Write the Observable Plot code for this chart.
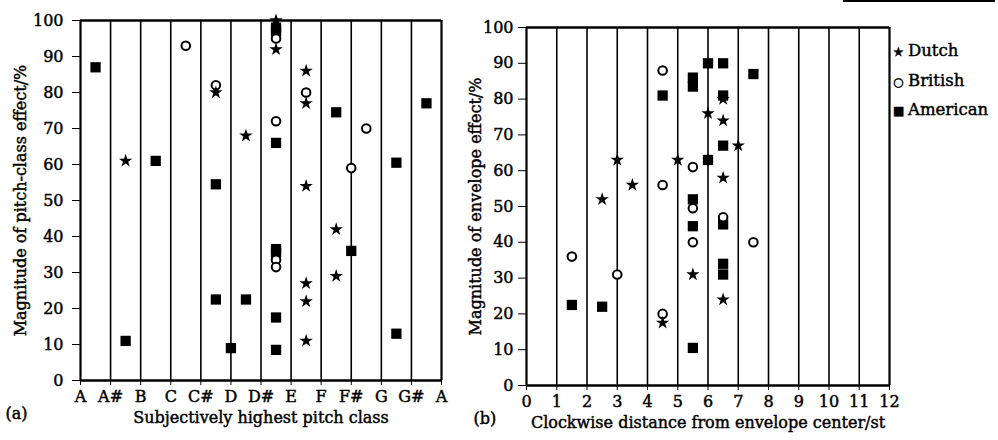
<!DOCTYPE html>
<html><head><meta charset="utf-8">
<script src="https://cdn.jsdelivr.net/npm/d3@7"></script>
<script src="https://cdn.jsdelivr.net/npm/@observablehq/plot@0.6"></script>
<style>
body{margin:0;background:#fff;}
#wrap{position:relative;width:998px;height:440px;font-family:"DejaVu Serif",serif;color:#000;overflow:hidden;}
#pa{position:absolute;left:0;top:0;}
#pb{position:absolute;left:470px;top:0;}
#wrap svg text{stroke:#000;stroke-width:0.45px;}
#legend{position:absolute;left:893px;top:37px;font-size:16.5px;line-height:28.5px;white-space:nowrap;-webkit-text-stroke:0.45px #000;}
#legend .sym{font-family:"DejaVu Sans",sans-serif;font-size:12px;display:inline-block;width:15px;}
#scanline{position:absolute;left:843px;top:0;width:152px;height:2px;background:#000;}
</style></head>
<body><div id="wrap"><div id="pa"></div><div id="pb"></div><div id="legend"></div><div id="scanline"></div></div>
<script>
// ---- tick labels ----
const pitchLabels = ["A","A#","B","C","C#","D","D#","E","F","F#","G","G#","A"];
const distanceTicks = [0,1,2,3,4,5,6,7,8,9,10,11,12];
const percentTicks = [0,10,20,30,40,50,60,70,80,90,100];
const seriesNames = ["Dutch","British","American"];

// ---- panel (a): [position between pitch classes, magnitude %] ----
const aDutch = [[1.5,61],[4.5,80],[5.5,68],[6.5,100],[6.5,92],[7.5,86],[7.5,77],[7.5,54],[7.5,27],[7.5,22],[7.5,11],[8.5,42],[8.5,29]];
const aBritish = [[3.5,93],[4.5,82],[6.5,95],[6.5,72],[6.5,33.5],[6.5,31.5],[7.5,80],[9,59],[9.5,70]];
const aAmerican = [[0.5,87],[1.5,11],[2.5,61],[4.5,54.5],[4.5,22.5],[5,9],[5.5,22.5],[6.5,98],[6.5,97],[6.5,66],[6.5,36.5],[6.5,35.5],[6.5,17.5],[6.5,8.5],[8.5,74.5],[9,36],[10.5,60.5],[10.5,13],[11.5,77]];

// ---- panel (b): [clockwise distance/st, magnitude %] ----
const bDutch = [[2.5,52],[3,63],[3.5,56],[4.5,17.5],[5,63],[5.5,31],[6,76],[6.5,80],[6.5,74],[6.5,58],[6.5,24],[7,67]];
const bBritish = [[1.5,36],[3,31],[4.5,88],[4.5,56],[4.5,20],[5.5,61],[5.5,49.5],[5.5,40],[6.5,47],[7.5,40]];
const bAmerican = [[1.5,22.5],[2.5,22],[4.5,81],[5.5,86],[5.5,83.5],[5.5,52],[5.5,44.5],[5.5,10.5],[6,90],[6,63],[6.5,90],[6.5,81],[6.5,67],[6.5,45],[6.5,34],[6.5,31],[7.5,87]];

const FONT = "DejaVu Serif";
const FS = 16;

function panel(o) {
  const gx = d3.range(0, 13);
  return Plot.plot({
    width: o.width, height: 440,
    marginLeft: o.ml, marginRight: o.mr, marginTop: o.mt, marginBottom: o.mb,
    style: {fontFamily: FONT, fontSize: FS + "px", color: "#000", background: "transparent", overflow: "visible"},
    x: {domain: [0, 12]},
    y: {domain: [0, 100]},
    marks: [
      Plot.ruleX(gx.filter(d => d > 0 && d < 12), {stroke: "#000", strokeWidth: 1.6}),
      Plot.ruleX([0, 12], {stroke: "#000", strokeWidth: 2.2}),
      Plot.ruleY([0], {stroke: "#000", strokeWidth: 2.6}),
      Plot.ruleY([100], {stroke: "#000", strokeWidth: 2.4}),
      Plot.axisX({ticks: o.xTicks, tickFormat: o.tickFormat, tickSize: 5, tickPadding: 5, label: null, fontSize: FS}),
      Plot.axisY({ticks: percentTicks, tickSize: 8, tickPadding: o.yPad, label: null, fontSize: FS}),
      Plot.dot(o.american, {x: d => d[0], y: d => d[1], symbol: "square", r: 5.8, fill: "#000", stroke: "none"}),
      Plot.dot(o.british, {x: d => d[0], y: d => d[1], symbol: "circle", r: 4.3, fill: "#fff", stroke: "#000", strokeWidth: 2}),
      Plot.dot(o.dutch, {x: d => d[0], y: d => d[1], symbol: "star", r: 4.2, fill: "#000", stroke: "none"}),
      Plot.text([o.xTitle], {text: d => d, frameAnchor: "bottom", textAnchor: "middle", dy: 42, fontSize: FS, fill: "#000"}),
      Plot.text([o.yTitle], {text: d => d, frameAnchor: "left", textAnchor: "middle", dx: o.yTitleDx, rotate: -90, fontSize: FS, fill: "#000"}),
      Plot.text([o.tag], {text: d => d, frameAnchor: "bottom-left", dx: o.tagDx, dy: 38, textAnchor: "start", fontSize: FS, fill: "#000"})
    ]
  });
}

document.getElementById("pa").appendChild(panel({
  width: 470, ml: 80, mr: 29, mt: 20, mb: 60,
  xTicks: d3.range(0, 13), tickFormat: i => pitchLabels[i], yPad: 9,
  dutch: aDutch, british: aBritish, american: aAmerican,
  xTitle: "Subjectively highest pitch class",
  yTitle: "Magnitude of pitch-class effect/%", yTitleDx: -60,
  tag: "(a)", tagDx: -75
}));

document.getElementById("pb").appendChild(panel({
  width: 528, ml: 56, mr: 109, mt: 27, mb: 55,
  xTicks: distanceTicks, tickFormat: d => String(d), yPad: 5,
  dutch: bDutch, british: bBritish, american: bAmerican,
  xTitle: "Clockwise distance from envelope center/st",
  yTitle: "Magnitude of envelope effect/%", yTitleDx: -51,
  tag: "(b)", tagDx: -53
}));

const legendSymbols = {Dutch: "\u2605", British: "\u25CB", American: "\u25A0"};
const lg = d3.select("#legend");
seriesNames.forEach(n => {
  const row = lg.append("div");
  row.append("span").attr("class", "sym").text(legendSymbols[n]);
  row.append("span").text(n);
});
</script>
</body></html>
